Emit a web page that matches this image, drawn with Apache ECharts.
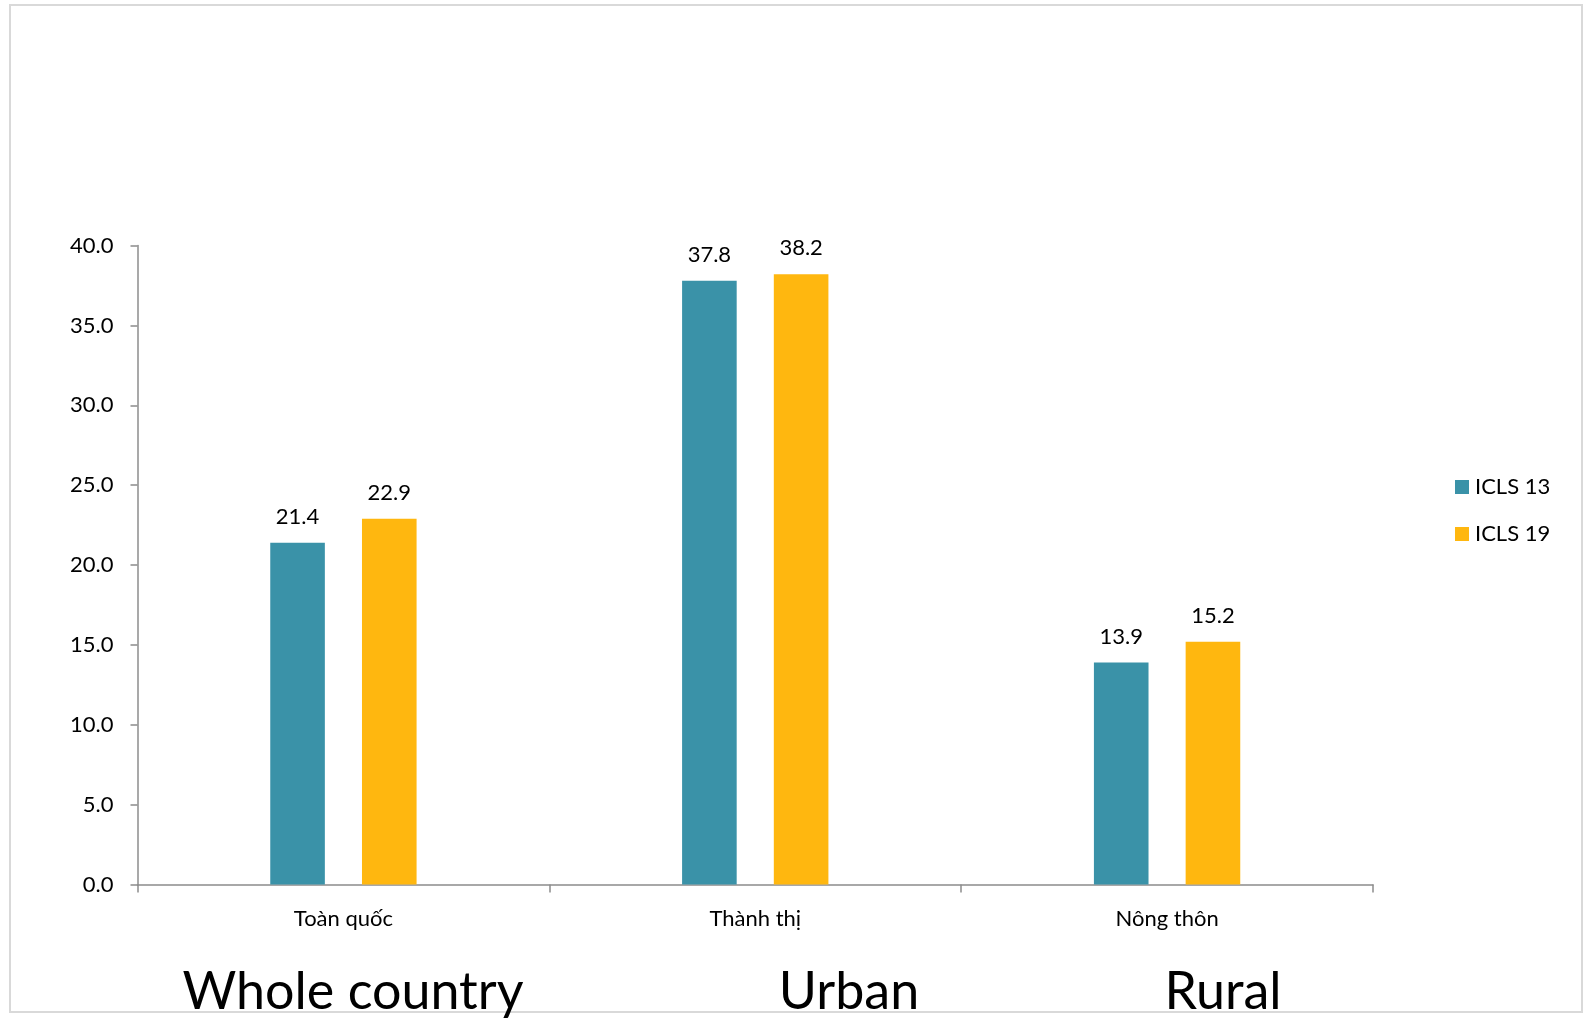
<!DOCTYPE html>
<html>
<head>
<meta charset="utf-8">
<script src="https://cdn.jsdelivr.net/npm/echarts@6/dist/echarts.min.js"></script>
<style>
  html, body { margin: 0; padding: 0; background: #fff; }
  #chart { width: 1585px; height: 1020px; }
</style>
</head>
<body>
<div id="chart"></div>
<script>
const categories = ["Toàn quốc", "Thành thị", "Nông thôn"];
const englishNames = ["Whole country", "Urban", "Rural"];
const icls13 = [21.4, 37.8, 13.9];
const icls19 = [22.9, 38.2, 15.2];
const seriesNames = ["ICLS 13", "ICLS 19"];

const FONT = "Lato, 'Open Sans', sans-serif";
const TEAL = "#3a92a8";
const GOLD = "#ffb70f";
const AXIS = "#8c8c8c";

const chart = echarts.init(document.getElementById("chart"));

// big english captions under the category names
const captionX = [353, 849, 1223];
const captions = englishNames.map((t, i) => ({
  type: "text",
  x: captionX[i],
  y: 992,
  style: {
    text: t,
    fill: "#000",
    font: "52px " + FONT,
    align: "center",
    verticalAlign: "middle"
  }
}));

const barLabel = {
  show: true,
  position: "top",
  distance: 15,
  color: "#000",
  fontSize: 22,
  fontFamily: FONT,
  formatter: p => p.value.toFixed(1)
};

chart.setOption({
  backgroundColor: "#fff",
  animation: false,
  textStyle: { fontFamily: FONT },
  graphic: [
    {
      type: "rect",
      shape: { x: 10, y: 5, width: 1572, height: 1007 },
      style: { fill: "none", stroke: "#d9d9d9", lineWidth: 2 }
    },
    ...captions
  ],
  legend: {
    orient: "vertical",
    left: 1450,
    top: 471,
    itemWidth: 14,
    itemHeight: 14,
    itemGap: 25,
    icon: "rect",
    textStyle: { fontSize: 22, color: "#000", fontFamily: FONT, padding: [0, 0, 0, 1] },
    data: seriesNames
  },
  grid: { left: 137.5, right: 212, top: 245.6, bottom: 135.5, containLabel: false },
  xAxis: {
    type: "category",
    data: categories,
    axisLine: { lineStyle: { color: AXIS, width: 1.5 } },
    axisTick: { show: true, length: 8, lineStyle: { color: AXIS, width: 1.5 } },
    axisLabel: { color: "#000", fontSize: 22, fontFamily: FONT, margin: 23 }
  },
  yAxis: {
    type: "value",
    min: 0,
    max: 40,
    interval: 5,
    splitLine: { show: false },
    axisLine: { show: true, lineStyle: { color: AXIS, width: 1.5 } },
    axisTick: { show: true, length: 7, lineStyle: { color: AXIS, width: 1.5 } },
    axisLabel: {
      color: "#000",
      fontSize: 22,
      fontFamily: FONT,
      margin: 24,
      formatter: v => v.toFixed(1)
    }
  },
  series: [
    {
      name: seriesNames[0],
      type: "bar",
      data: icls13,
      barWidth: 54.6,
      barGap: "68%",
      itemStyle: { color: TEAL },
      label: barLabel
    },
    {
      name: seriesNames[1],
      type: "bar",
      data: icls19,
      barWidth: 54.6,
      barGap: "68%",
      itemStyle: { color: GOLD },
      label: barLabel
    }
  ]
});
</script>
</body>
</html>
